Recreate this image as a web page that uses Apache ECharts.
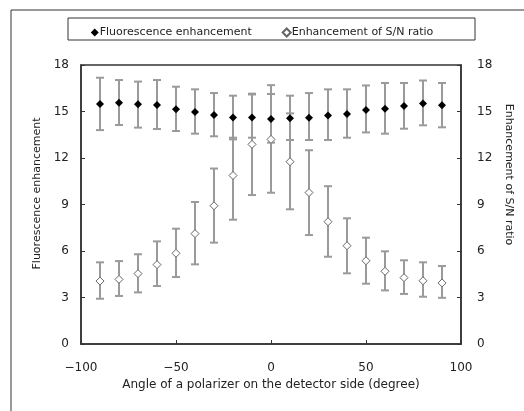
<!DOCTYPE html>
<html>
<head>
<meta charset="utf-8">
<script src="https://cdn.jsdelivr.net/npm/echarts@6/dist/echarts.min.js"></script>
<style>
  html, body { margin: 0; padding: 0; background: #fff; }
  #main { width: 524px; height: 411px; }
</style>
</head>
<body>
<div id="main"></div>
<script>
// angle of the polarizer (degree)
const angles = [-90, -80, -70, -60, -50, -40, -30, -20, -10, 0, 10, 20, 30, 40, 50, 60, 70, 80, 90];

// fluorescence enhancement, with error bar ends
const fluo = [15.48, 15.57, 15.46, 15.42, 15.14, 14.97, 14.77, 14.62, 14.62, 14.52, 14.56, 14.6, 14.75, 14.84, 15.1, 15.18, 15.35, 15.52, 15.4];
const fluoHi = [17.18, 17.03, 16.93, 17.03, 16.6, 16.43, 16.19, 16.02, 16.1, 16.13, 16.02, 16.19, 16.43, 16.43, 16.68, 16.84, 16.84, 17.0, 16.84];
const fluoLo = [13.8, 14.13, 13.96, 13.87, 13.74, 13.57, 13.4, 13.2, 13.31, 12.99, 13.16, 13.16, 13.16, 13.31, 13.65, 13.57, 13.89, 14.11, 13.98];

// enhancement of S/N ratio, with error bar ends
const sn = [4.06, 4.17, 4.54, 5.12, 5.85, 7.12, 8.92, 10.87, 12.88, 13.2, 11.76, 9.77, 7.89, 6.34, 5.37, 4.69, 4.28, 4.08, 3.94];
const snHi = [5.27, 5.35, 5.79, 6.62, 7.44, 9.16, 11.32, 13.31, 16.15, 16.7, 14.88, 12.5, 10.18, 8.11, 6.86, 5.98, 5.4, 5.27, 5.03];
const snLo = [2.92, 3.1, 3.33, 3.74, 4.32, 5.14, 6.54, 8.02, 9.61, 9.76, 8.69, 7.03, 5.63, 4.56, 3.89, 3.46, 3.23, 3.05, 2.98];

const xTicks = { min: -100, max: 100, interval: 50 };
const yTicks = { min: 0, max: 18, interval: 3 };

const font = 'DejaVu Sans, sans-serif';

function errorData(lo, hi) {
  return angles.map((a, i) => [a, lo[i], hi[i]]);
}

function renderError(params, api) {
  const x = api.value(0);
  const lo = api.coord([x, api.value(1)]);
  const hi = api.coord([x, api.value(2)]);
  const w = 4;
  const style = { stroke: '#9a9a9a', lineWidth: 2 };
  return {
    type: 'group',
    children: [
      { type: 'line', shape: { x1: lo[0], y1: lo[1], x2: hi[0], y2: hi[1] }, style: style },
      { type: 'line', shape: { x1: hi[0] - w, y1: hi[1], x2: hi[0] + w, y2: hi[1] }, style: style },
      { type: 'line', shape: { x1: lo[0] - w, y1: lo[1], x2: lo[0] + w, y2: lo[1] }, style: style }
    ]
  };
}

const chart = echarts.init(document.getElementById('main'));

const yAxisBase = {
  type: 'value',
  min: yTicks.min,
  max: yTicks.max,
  interval: yTicks.interval,
  nameLocation: 'middle',
  axisLine: { show: true, onZero: false, lineStyle: { color: '#333', width: 1.5 } },
  axisTick: { show: true, inside: true, length: 4, lineStyle: { color: '#333' } },
  splitLine: { show: false },
  axisLabel: { color: '#222', fontSize: 12, fontFamily: font }
};

chart.setOption({
  animation: false,
  backgroundColor: '#fff',
  graphic: [
    { type: 'rect', shape: { x: 11, y: 10, width: 700, height: 700 }, style: { fill: 'none', stroke: '#333', lineWidth: 1 } },
    { type: 'rect', shape: { x: 68, y: 18, width: 407, height: 22 }, style: { fill: 'none', stroke: '#333', lineWidth: 1 } }
  ],
  legend: {
    top: 22,
    left: 'center',
    itemWidth: 8,
    itemHeight: 8,
    itemGap: 30,
    textStyle: { color: '#222', fontSize: 11, fontFamily: font, padding: [0, 0, 0, -4] },
    data: ['Fluorescence enhancement', 'Enhancement of S/N ratio']
  },
  grid: { left: 81, right: 63, top: 65, bottom: 67, show: true, borderColor: '#333', borderWidth: 1.5, backgroundColor: 'transparent' },
  xAxis: {
    type: 'value',
    min: xTicks.min,
    max: xTicks.max,
    interval: xTicks.interval,
    name: 'Angle of a polarizer on the detector side (degree)',
    nameLocation: 'middle',
    nameGap: 35,
    nameTextStyle: { color: '#222', fontSize: 12, fontFamily: font },
    axisLine: { show: true, onZero: false, lineStyle: { color: '#333', width: 1.5 } },
    axisTick: { show: true, inside: true, length: 4, lineStyle: { color: '#333' } },
    splitLine: { show: false },
    axisLabel: { color: '#222', fontSize: 12, fontFamily: font, margin: 18, formatter: v => v < 0 ? '\u2212' + Math.abs(v) : String(v) }
  },
  yAxis: [
    Object.assign({}, yAxisBase, {
      position: 'left',
      name: 'Fluorescence enhancement',
      nameGap: 34,
      nameTextStyle: { color: '#222', fontSize: 11, fontFamily: font, padding: [0, 0, 0, 22] },
      axisLabel: Object.assign({}, yAxisBase.axisLabel, { margin: 12 })
    }),
    Object.assign({}, yAxisBase, {
      position: 'right',
      name: 'Enhancement of S/N ratio',
      nameGap: 30,
      nameRotate: -90,
      nameTextStyle: { color: '#222', fontSize: 11, fontFamily: font, padding: [0, 60, 0, 0] },
      axisLabel: Object.assign({}, yAxisBase.axisLabel, { margin: 16 })
    })
  ],
  series: [
    {
      type: 'custom',
      name: 'fluoErr',
      renderItem: renderError,
      data: errorData(fluoLo, fluoHi),
      encode: { x: 0, y: [1, 2] },
      z: 1
    },
    {
      type: 'custom',
      name: 'snErr',
      yAxisIndex: 1,
      renderItem: renderError,
      data: errorData(snLo, snHi),
      encode: { x: 0, y: [1, 2] },
      z: 1
    },
    {
      type: 'scatter',
      name: 'Fluorescence enhancement',
      symbol: 'diamond',
      symbolSize: 8,
      itemStyle: { color: '#000', opacity: 1 },
      data: angles.map((a, i) => [a, fluo[i]]),
      z: 3
    },
    {
      type: 'scatter',
      name: 'Enhancement of S/N ratio',
      yAxisIndex: 1,
      symbol: 'diamond',
      symbolSize: 8,
      itemStyle: { color: '#fff', borderColor: '#666', borderWidth: 1, opacity: 1 },
      data: angles.map((a, i) => [a, sn[i]]),
      z: 3
    }
  ]
});
</script>
</body>
</html>
